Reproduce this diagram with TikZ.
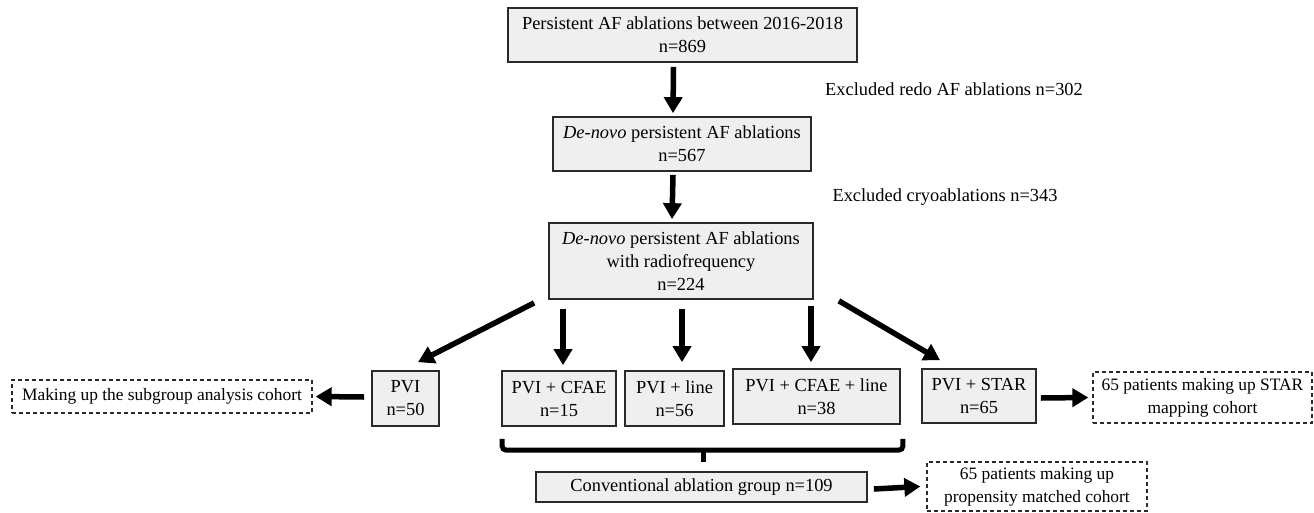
\documentclass[tikz,border=0pt]{standalone}
\usepackage{fontspec}
\setmainfont{Liberation Serif}
\usetikzlibrary{arrows.meta}
\definecolor{boxfill}{HTML}{EFEFEF}
\definecolor{boxline}{HTML}{2A2A2A}
\tikzset{
  every node/.style={font=\fontsize{18.4}{23}\selectfont, inner sep=0pt, align=center},
  gbox/.style={draw=boxline, line width=1.7pt, fill=boxfill},
  dbox/.style={draw=boxline, line width=1.3pt, dash pattern=on 4pt off 3pt, fill=white, font=\fontsize{17.4}{23}\selectfont},
  arr/.style={line width=5.5pt, -{Triangle[length=16pt,width=18pt]}},
  brace/.style={line width=5pt, rounded corners=4pt},
}
\begin{document}
\begin{tikzpicture}[x=1pt,y=-1pt]
\useasboundingbox (0,0) rectangle (1314,512);
% main column
\node[gbox, minimum width=349pt, minimum height=54pt] (top) at (682.5,35) {Persistent AF ablations between 2016-2018\\n=869};
\node[gbox, minimum width=258pt, minimum height=54pt] (b2) at (682,144) {\textit{De-novo} persistent AF ablations\\n=567};
\node[gbox, minimum width=264pt, minimum height=76pt] (b3) at (681,261) {\textit{De-novo} persistent AF ablations\\with radiofrequency\\n=224};
\node (ex1) at (954,89) {Excluded redo AF ablations n=302};
\node (ex2) at (945,197) {Excluded cryoablations n=343};
% row of groups
\node[gbox, minimum width=67pt, minimum height=55pt] (pvi) at (405.5,398.5) {PVI\\n=50};
\node[gbox, minimum width=114pt, minimum height=55pt] (cfae) at (559,398.5) {PVI + CFAE\\n=15};
\node[gbox, minimum width=99pt, minimum height=55pt] (line) at (674.5,398.5) {PVI + line\\n=56};
\node[gbox, minimum width=167pt, minimum height=55pt] (cfaeline) at (816.5,396.5) {PVI + CFAE + line\\n=38};
\node[gbox, minimum width=114pt, minimum height=54pt] (star) at (979,396) {PVI + STAR\\n=65};
\node[dbox, minimum width=300pt, minimum height=33pt] (dsub) at (162,396.5) {Making up the subgroup analysis cohort};
\node[dbox, minimum width=219pt, minimum height=51pt] (dstar) at (1202.5,397.5) {65 patients making up STAR\\mapping cohort};
\node[gbox, minimum width=331pt, minimum height=30pt] (conv) at (701.5,487) {Conventional ablation group n=109};
\node[dbox, minimum width=220pt, minimum height=49pt] (dprop) at (1037,486.5) {65 patients making up\\propensity matched cohort};
% spine arrows
\draw[arr] ([xshift=-9pt,yshift=-4pt]top.south) -- ([xshift=-9pt,yshift=3pt]b2.north);
\draw[arr] ([xshift=-9pt,yshift=-3pt]b2.south) -- ([xshift=-9pt,yshift=3pt]b3.north);
% branch arrows
\draw[arr] ([xshift=-14pt,yshift=-3pt]b3.south west) -- ([xshift=12.5pt,yshift=8pt]pvi.north);
\draw[arr] ([xshift=4pt,yshift=-9pt]b3.south -| cfae.north) -- ([xshift=4pt,yshift=5pt]cfae.north);
\draw[arr] ([xshift=7.5pt,yshift=-9pt]b3.south -| line.north) -- ([xshift=7.5pt,yshift=8pt]line.north);
\draw[arr] ([xshift=-5.5pt,yshift=-6pt]b3.south -| cfaeline.north) -- ([xshift=-5.5pt,yshift=6pt]cfaeline.north);
\draw[arr] ([xshift=25pt,yshift=-1pt]b3.south east) -- ([xshift=-39pt,yshift=8pt]star.north);
% side arrows
\draw[arr] ([xshift=-7pt,yshift=1.5pt]pvi.west) -- ([xshift=3pt]dsub.east);
\draw[arr] ([xshift=4pt,yshift=-2pt]star.east) -- ([xshift=-4pt]dstar.west);
\draw[arr] ([xshift=6pt,yshift=-2pt]conv.east) -- ([xshift=-6pt]dprop.west);
% brace
\coordinate (bl) at ([xshift=1pt,yshift=-12pt]cfae.south west);
\coordinate (br) at ([xshift=2pt,yshift=-14pt]cfaeline.south east);
\coordinate (bm) at ([xshift=1.5pt,yshift=9pt]conv.north);
\draw[brace] (bl) |- ([yshift=12pt]bm) -| (br);
\draw[line width=5pt] ([yshift=12pt]bm) -- (bm);
\end{tikzpicture}
\end{document}
